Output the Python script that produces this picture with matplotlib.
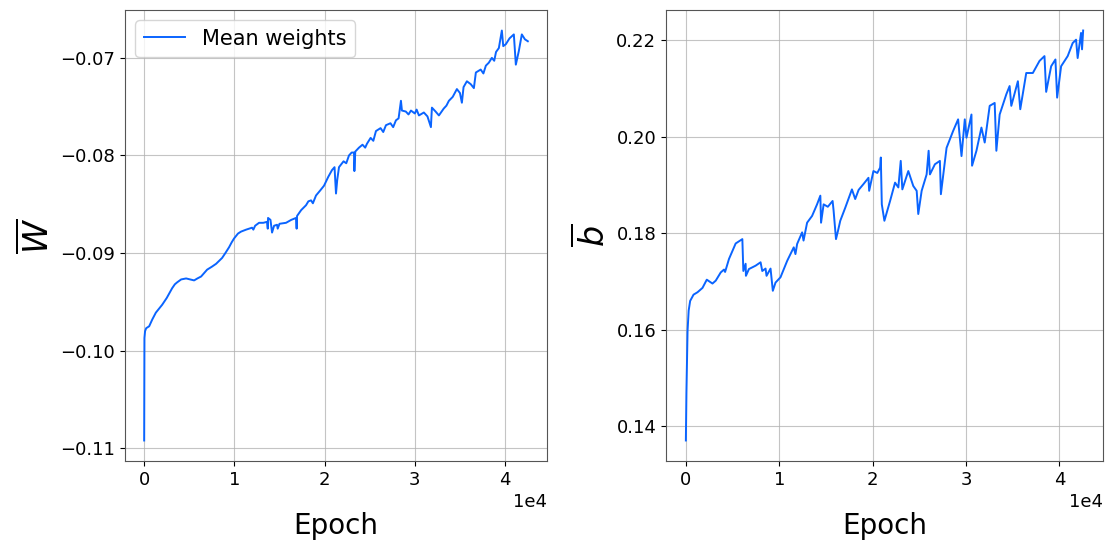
import numpy as np
import matplotlib
matplotlib.use("Agg")
import matplotlib.pyplot as plt

# mean weight per epoch
w_epoch = [0, 30, 100, 221, 554, 900, 1296, 1650, 1993, 2500, 3101, 3400, 3654,
           4100, 4651, 5100, 5537, 5900, 6312, 6600, 6977, 7500, 7973, 8300, 8638,
           9000, 9413, 9700, 9967, 10400, 10742, 11300, 11960, 12100, 12300, 12735,
           13200, 13621, 13700, 13732, 14000, 14175, 14400, 14729, 14800, 15000,
           15725, 16300, 16833, 16900, 16944, 17400, 17940, 18200, 18500, 18700,
           19048, 19500, 19934, 20400, 20819, 21100, 21262, 21400, 21595, 22100,
           22400, 22702, 23000, 23256, 23300, 23400, 23810, 24200, 24500, 24695,
           25100, 25400, 25692, 26200, 26500, 26800, 27300, 27600, 27907, 28200,
           28461, 28571, 29000, 29300, 29568, 30000, 30200, 30454, 31000, 31400,
           31783, 31894, 32300, 32669, 33200, 33500, 33776, 34200, 34662, 35000,
           35216, 35400, 35770, 36200, 36545, 36766, 37300, 37600, 37874, 38200,
           38538, 38800, 39000, 39313, 39646, 39800, 40089, 40500, 40975, 41196,
           41528, 41860, 42200, 42525]
w_mean = [-0.1092, -0.0987, -0.0980, -0.0977, -0.0975, -0.0968, -0.0961, -0.0957,
          -0.0953, -0.0946, -0.0936, -0.0932, -0.0930, -0.0927, -0.0926, -0.0927,
          -0.0928, -0.0926, -0.0924, -0.0921, -0.0917, -0.0914, -0.0911, -0.0908,
          -0.0905, -0.0900, -0.0894, -0.0889, -0.0885, -0.0880, -0.0878, -0.0876,
          -0.0874, -0.0876, -0.0872, -0.0869, -0.0869, -0.0868, -0.0875, -0.0864,
          -0.0866, -0.0879, -0.0872, -0.0871, -0.0875, -0.0870, -0.0869, -0.0866,
          -0.0864, -0.0875, -0.0862, -0.0856, -0.0851, -0.0847, -0.0846, -0.0849,
          -0.0841, -0.0836, -0.0831, -0.0822, -0.0815, -0.0812, -0.0839, -0.0825,
          -0.0812, -0.0806, -0.0808, -0.0800, -0.0797, -0.0797, -0.0816, -0.0796,
          -0.0792, -0.0789, -0.0792, -0.0788, -0.0782, -0.0785, -0.0775, -0.0772,
          -0.0776, -0.0769, -0.0767, -0.0771, -0.0764, -0.0762, -0.0744, -0.0754,
          -0.0755, -0.0758, -0.0754, -0.0757, -0.0753, -0.0759, -0.0756, -0.0760,
          -0.0771, -0.0751, -0.0755, -0.0759, -0.0752, -0.0749, -0.0744, -0.0740,
          -0.0732, -0.0736, -0.0746, -0.0730, -0.0724, -0.0727, -0.0731, -0.0715,
          -0.0712, -0.0716, -0.0708, -0.0705, -0.0700, -0.0703, -0.0694, -0.0690,
          -0.0672, -0.0688, -0.0686, -0.0680, -0.0676, -0.0707, -0.0693, -0.0676,
          -0.0681, -0.0683]

# mean bias per epoch
b_epoch = [0, 60, 181, 300, 459, 821, 1248, 1781, 2240, 2848, 3200, 3733, 4085,
           4200, 4619, 5333, 6048, 6155, 6400, 6432, 6752, 7467, 8000, 8181, 8533,
           8640, 9067, 9312, 9600, 10133, 10848, 11552, 11733, 11915, 12448, 12600,
           12981, 13515, 14048, 14400, 14475, 14752, 15200, 15712, 15819, 16075,
           16288, 16533, 17067, 17781, 18133, 18500, 19019, 19552, 19627, 20085,
           20500, 20800, 20875, 20981, 21259, 21867, 22400, 22752, 23008, 23179,
           23819, 24352, 24715, 24885, 25248, 25781, 25995, 26133, 26667, 27200,
           27307, 27915, 28619, 29152, 29515, 29867, 30048, 30581, 30645, 31115,
           31648, 32000, 32533, 33067, 33248, 33600, 34315, 34667, 34848, 35552,
           35808, 36448, 37152, 37867, 38400, 38581, 39115, 39573, 39755, 40181,
           40885, 41419, 41781, 41952, 42315, 42421, 42540]
b_mean = [0.1371, 0.1470, 0.1598, 0.1640, 0.1660, 0.1673, 0.1678, 0.1687, 0.1704,
          0.1696, 0.1702, 0.1719, 0.1725, 0.1720, 0.1747, 0.1779, 0.1788, 0.1722,
          0.1737, 0.1712, 0.1726, 0.1733, 0.1740, 0.1722, 0.1727, 0.1712, 0.1727,
          0.1681, 0.1698, 0.1709, 0.1743, 0.1771, 0.1757, 0.1778, 0.1802, 0.1785,
          0.1822, 0.1836, 0.1860, 0.1878, 0.1822, 0.1860, 0.1855, 0.1867, 0.1847,
          0.1788, 0.1805, 0.1826, 0.1853, 0.1891, 0.1871, 0.1890, 0.1902, 0.1915,
          0.1888, 0.1929, 0.1925, 0.1936, 0.1957, 0.1860, 0.1826, 0.1867, 0.1905,
          0.1895, 0.1950, 0.1891, 0.1929, 0.1898, 0.1888, 0.1840, 0.1888, 0.1922,
          0.1971, 0.1922, 0.1943, 0.1950, 0.1881, 0.1977, 0.2012, 0.2036, 0.1960,
          0.2036, 0.1998, 0.2046, 0.1940, 0.1971, 0.2019, 0.1988, 0.2064, 0.2070,
          0.1971, 0.2046, 0.2088, 0.2105, 0.2064, 0.2115, 0.2057, 0.2132, 0.2132,
          0.2157, 0.2167, 0.2093, 0.2146, 0.2160, 0.2081, 0.2146, 0.2167, 0.2194,
          0.2201, 0.2163, 0.2215, 0.2181, 0.2220]

line_color = '#0a64ff'

fig = plt.figure(figsize=(11.1, 5.44), dpi=100)
ax1 = fig.add_axes([0.1126, 0.1526, 0.3802, 0.829])
ax2 = fig.add_axes([0.6, 0.1526, 0.3937, 0.829])

ax1.plot(w_epoch, w_mean, color=line_color, lw=1.4, label='Mean weights')
ax1.set_ylabel(r'$\overline{W}$', fontsize=24)
ax1.legend(loc='upper left', fontsize=15)

ax2.plot(b_epoch, b_mean, color=line_color, lw=1.4)
ax2.set_ylabel(r'$\overline{b}$', fontsize=24)

for ax in (ax1, ax2):
    ax.grid(True, color='#b0b0b0', alpha=0.75)
    ax.set_xlabel('Epoch', fontsize=20, labelpad=17)
    ax.tick_params(labelsize=13)
    ax.ticklabel_format(axis='x', style='sci', scilimits=(0, 0))
    ax.xaxis.get_offset_text().set_fontsize(13)
    for s in ax.spines.values():
        s.set_color('#555555')

ax1.set_yticks([-0.11, -0.10, -0.09, -0.08, -0.07])
ax2.set_yticks([0.14, 0.16, 0.18, 0.20, 0.22])

fig.savefig('out.png', dpi=100)
